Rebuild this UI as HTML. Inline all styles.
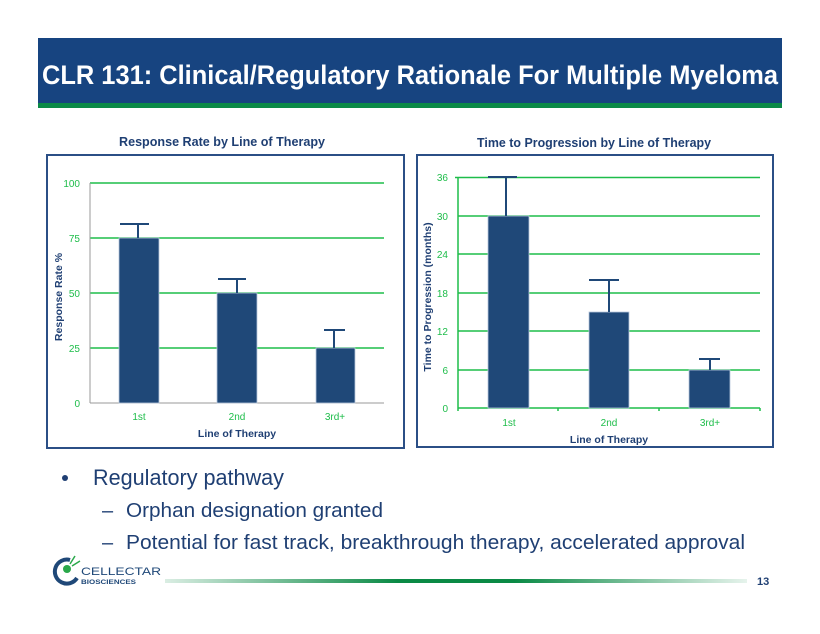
<!DOCTYPE html>
<html><head><meta charset="utf-8"><style>
html,body{margin:0;padding:0;background:#fff;}
svg{display:block;font-family:"Liberation Sans",sans-serif;}
</style></head><body>
<svg width="820" height="634" viewBox="0 0 820 634" xmlns="http://www.w3.org/2000/svg">
<defs>
<linearGradient id="g" x1="0" x2="1" y1="0" y2="0">
<stop offset="0" stop-color="#0a8a45" stop-opacity="0.15"/>
<stop offset="0.4" stop-color="#0a8a45"/>
<stop offset="0.6" stop-color="#0a8a45"/>
<stop offset="1" stop-color="#0a8a45" stop-opacity="0.1"/>
</linearGradient>
</defs>
<rect x="38" y="38" width="744" height="66" fill="#174480"/>
<rect x="38" y="103" width="744" height="5" fill="#0b8a47"/>
<text x="42" y="84" fill="#fff" font-size="27" font-weight="bold" textLength="736" lengthAdjust="spacingAndGlyphs">CLR 131: Clinical/Regulatory Rationale For Multiple Myeloma</text>

<text x="222" y="146" fill="#1f3f73" font-size="12.5" font-weight="bold" text-anchor="middle" textLength="206" lengthAdjust="spacingAndGlyphs">Response Rate by Line of Therapy</text>
<text x="594" y="147" fill="#1f3f73" font-size="12.5" font-weight="bold" text-anchor="middle" textLength="234" lengthAdjust="spacingAndGlyphs">Time to Progression by Line of Therapy</text>

<!-- left chart -->
<rect x="47" y="155" width="357" height="293" fill="none" stroke="#2b4f86" stroke-width="2"/>
<g stroke="#1ebd4a" stroke-width="1.5">
<line x1="90" y1="183" x2="384" y2="183"/><line x1="90" y1="238" x2="384" y2="238"/>
<line x1="90" y1="293" x2="384" y2="293"/><line x1="90" y1="348" x2="384" y2="348"/>
</g>
<line x1="90" y1="183" x2="90" y2="403" stroke="#999"/>
<line x1="90" y1="403" x2="384" y2="403" stroke="#999"/>
<g fill="#1f4878" stroke="#b9c8dc" stroke-width="0.8">
<rect x="119" y="238" width="40" height="165"/><rect x="217" y="293" width="40" height="110"/><rect x="316" y="348" width="39" height="55"/>
</g>
<g stroke="#1f4878" stroke-width="2" fill="none">
<path d="M138 238V224M120 224H149M237 293V279M218 279H246M334 348V330M324 330H345"/>
</g>
<g fill="#1ebd4a" font-size="10" text-anchor="end">
<text x="80" y="187">100</text><text x="80" y="242">75</text><text x="80" y="297">50</text><text x="80" y="352">25</text><text x="80" y="407">0</text>
</g>
<g fill="#1ebd4a" font-size="10" text-anchor="middle">
<text x="139" y="420">1st</text><text x="237" y="420">2nd</text><text x="335" y="420">3rd+</text>
</g>
<text x="237" y="437" fill="#1f3f73" font-size="10.5" font-weight="bold" text-anchor="middle">Line of Therapy</text>
<text transform="translate(62,297) rotate(-90)" fill="#1f3f73" font-size="10.5" font-weight="bold" text-anchor="middle">Response Rate %</text>

<!-- right chart -->
<rect x="417" y="155" width="356" height="292" fill="none" stroke="#2b4f86" stroke-width="2"/>
<g stroke="#1ebd4a" stroke-width="1.5">
<line x1="458" y1="177.5" x2="760" y2="177.5"/><line x1="458" y1="216" x2="760" y2="216"/>
<line x1="458" y1="254" x2="760" y2="254"/><line x1="458" y1="293" x2="760" y2="293"/>
<line x1="458" y1="331" x2="760" y2="331"/><line x1="458" y1="370" x2="760" y2="370"/>
<line x1="458" y1="408" x2="760" y2="408"/>
<line x1="458" y1="177" x2="458" y2="411"/>
<line x1="558" y1="408" x2="558" y2="411"/><line x1="659" y1="408" x2="659" y2="411"/><line x1="760" y1="408" x2="760" y2="411"/>
<line x1="455" y1="177.5" x2="458" y2="177.5"/>
</g>
<g fill="#1f4878" stroke="#b9c8dc" stroke-width="0.8">
<rect x="488" y="216" width="41" height="192"/><rect x="589" y="312" width="40" height="96"/><rect x="689" y="370" width="41" height="38"/>
</g>
<g stroke="#1f4878" stroke-width="2" fill="none">
<path d="M506 216V177M488 177H517M609 312V280M589 280H619M710 370V359M699 359H720"/>
</g>
<g fill="#1ebd4a" font-size="10" text-anchor="end">
<text x="448" y="181">36</text><text x="448" y="220">30</text><text x="448" y="258">24</text><text x="448" y="297">18</text><text x="448" y="335">12</text><text x="448" y="374">6</text><text x="448" y="412">0</text>
</g>
<g fill="#1ebd4a" font-size="10" text-anchor="middle">
<text x="509" y="426">1st</text><text x="609" y="426">2nd</text><text x="710" y="426">3rd+</text>
</g>
<text x="609" y="443" fill="#1f3f73" font-size="10.5" font-weight="bold" text-anchor="middle">Line of Therapy</text>
<text transform="translate(431,297) rotate(-90)" fill="#1f3f73" font-size="10.5" font-weight="bold" text-anchor="middle">Time to Progression (months)</text>

<!-- bullets -->
<g fill="#1f3f73">
<circle cx="65" cy="478" r="3"/>
<text x="93" y="485" font-size="22" textLength="191" lengthAdjust="spacingAndGlyphs">Regulatory pathway</text>
<text x="102" y="517" font-size="20">–</text>
<text x="126" y="517" font-size="20" textLength="257" lengthAdjust="spacingAndGlyphs">Orphan designation granted</text>
<text x="102" y="549" font-size="20">–</text>
<text x="126" y="549" font-size="20" textLength="619" lengthAdjust="spacingAndGlyphs">Potential for fast track, breakthrough therapy, accelerated approval</text>
</g>

<!-- footer -->
<rect x="165" y="579" width="582" height="4" fill="url(#g)"/>
<path d="M70 560 A12 12 0 1 0 77 578" fill="none" stroke="#1f4878" stroke-width="4"/>
<circle cx="67" cy="569" r="4" fill="#2aa84a"/>
<path d="M70 564L75 556M72 566L80 561" stroke="#2aa84a" stroke-width="1.5"/>
<text x="81" y="575" fill="#1f4878" font-size="11" textLength="80" lengthAdjust="spacingAndGlyphs">CELLECTAR</text>
<text x="81" y="584" fill="#1f4878" font-size="6" font-weight="bold" textLength="55" lengthAdjust="spacingAndGlyphs">BIOSCIENCES</text>
<text x="757" y="585" fill="#1f3f73" font-size="11" font-weight="bold">13</text>
</svg>
</body></html>
